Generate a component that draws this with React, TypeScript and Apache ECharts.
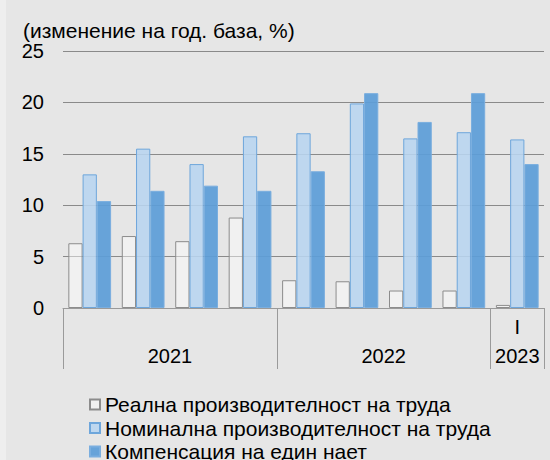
import React, { useEffect, useRef } from "react";
import * as echarts from "echarts";

const quarters = ["I", "II", "III", "IV", "I", "II", "III", "IV", "I"];
const shownQuarterIdx = [8];
const yearSlots = ["", "", "", "", "2021", "", "", "", "", "", "", "", "2022", "", "", "", "", "2023", ""];
const yearLabelIdx = [4, 12, 17];
const yearTickIdx = [0, 8, 16, 18];

const realProd = [6.3, 7.0, 6.5, 8.8, 2.7, 2.6, 1.7, 1.7, 0.3];
const nominalProd = [13.0, 15.5, 14.0, 16.7, 17.0, 19.9, 16.5, 17.1, 16.4];
const compensation = [10.4, 11.4, 11.9, 11.4, 13.3, 20.9, 18.1, 20.9, 14.0];

const seriesNames = [
  "Реална производителност на труда",
  "Номинална производителност на труда",
  "Компенсация на един нает",
];
const yTitle = "(изменение на год. база, %)";

const FONT = "'Liberation Sans', Arial, sans-serif";

export default function App() {
  const ref = useRef<HTMLDivElement>(null);
  useEffect(() => {
    if (!ref.current) return;
    const chart = echarts.init(ref.current, undefined, { renderer: "svg" });
    chart.setOption({
      animation: false,
      backgroundColor: "transparent",
      textStyle: { fontFamily: FONT },
      title: {
        text: yTitle,
        left: 23,
        top: 20,
        padding: 0,
        textStyle: { fontSize: 21, fontWeight: "normal", color: "#000", fontFamily: FONT, lineHeight: 21 },
      },
      legend: {
        orient: "vertical",
        left: 89,
        top: 394,
        padding: 0,
        itemWidth: 10,
        itemHeight: 10,
        itemGap: 2.5,
        icon: "rect",
        textStyle: { fontSize: 21, color: "#000", fontFamily: FONT, lineHeight: 21 },
        data: seriesNames,
      },
      grid: { left: 63, right: 6, top: 51, bottom: 172, containLabel: false },
      xAxis: [
        {
          type: "category",
          data: quarters,
          boundaryGap: true,
          axisLine: { lineStyle: { color: "#9a9a9a", width: 1 } },
          axisTick: { length: 30, interval: 0, lineStyle: { color: "#9a9a9a" } },
          axisLabel: {
            interval: (i: number) => shownQuarterIdx.includes(i),
            margin: 9,
            fontSize: 20,
            color: "#000",
            fontFamily: FONT,
          },
        },
        {
          type: "category",
          data: yearSlots,
          boundaryGap: false,
          position: "bottom",
          axisLine: { show: false },
          axisTick: {
            length: 61,
            interval: (i: number) => yearTickIdx.includes(i),
            lineStyle: { color: "#9a9a9a" },
          },
          axisLabel: {
            interval: (i: number) => yearLabelIdx.includes(i),
            margin: 38,
            fontSize: 20,
            color: "#000",
            fontFamily: FONT,
          },
        },
      ],
      yAxis: {
        type: "value",
        min: 0,
        max: 25,
        interval: 5,
        axisLine: { show: false },
        axisTick: { show: false },
        axisLabel: { fontSize: 20, color: "#000", margin: 19, fontFamily: FONT },
        splitLine: { lineStyle: { color: "#8a8a8a", width: 1 } },
      },
      series: [
        {
          name: seriesNames[0],
          type: "bar",
          data: realProd,
          barGap: "0%",
          barCategoryGap: "20%",
          itemStyle: { color: "rgba(255,255,255,0.45)", borderColor: "#8c8c8c", borderWidth: 1 },
        },
        {
          name: seriesNames[1],
          type: "bar",
          data: nominalProd,
          barGap: "0%",
          barCategoryGap: "20%",
          itemStyle: { color: "rgba(184,213,240,0.88)", borderColor: "#6ea6db", borderWidth: 1 },
        },
        {
          name: seriesNames[2],
          type: "bar",
          data: compensation,
          barGap: "0%",
          barCategoryGap: "20%",
          itemStyle: { color: "rgba(92,157,215,0.93)", borderColor: "#7aaedf", borderWidth: 1 },
        },
      ],
    });
    return () => chart.dispose();
  }, []);
  return (
    <div
      style={{
        position: "absolute",
        left: 0,
        top: 0,
        width: 550,
        height: 460,
        overflow: "hidden",
        background: "linear-gradient(to right, #eeeeee 0px, #eeeeee 6px, #e6e6e6 6px)",
      }}
    >
      <div ref={ref} style={{ width: 550, height: 480 }} />
    </div>
  );
}
